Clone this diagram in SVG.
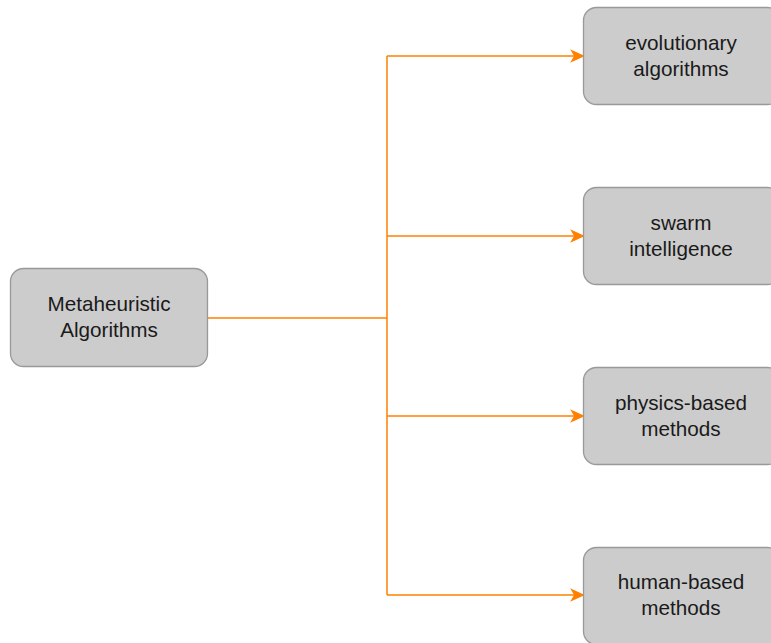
<svg xmlns="http://www.w3.org/2000/svg" width="771" height="643" viewBox="0 0 771 643">
  <style>
    .box { fill: #cccccc; stroke: #999999; stroke-width: 1.3; }
    .lbl { font-family: "Liberation Sans", Arial, sans-serif; font-size: 20.7px; fill: #1a1a1a; text-anchor: middle; }
    .edge { fill: none; stroke: #ff8000; stroke-width: 1.5; }
    .head { fill: #ff8000; stroke: #ff8000; stroke-width: 1.5; stroke-linejoin: miter; }
  </style>
  <rect width="771" height="643" fill="#ffffff"/>

  <g id="connectors">
    <path class="edge" d="M207 318 H387"/>
    <path class="edge" d="M387 56 V595"/>
    <path class="edge" d="M387 56 H576"/>
    <path class="edge" d="M387 236 H576"/>
    <path class="edge" d="M387 416 H576"/>
    <path class="edge" d="M387 595 H576"/>
    <path class="head" d="M583 56 L572 61 L575 56 L572 51 Z"/>
    <path class="head" d="M583 236 L572 241 L575 236 L572 231 Z"/>
    <path class="head" d="M583 416 L572 421 L575 416 L572 411 Z"/>
    <path class="head" d="M583 595 L572 600 L575 595 L572 590 Z"/>
  </g>

  <g id="metaheuristic">
    <rect class="box" x="10.5" y="268.5" width="197" height="98" rx="13"/>
    <text class="lbl" x="109" y="311">Metaheuristic</text>
    <text class="lbl" x="109" y="337">Algorithms</text>
  </g>

  <g id="evolutionary">
    <rect class="box" x="583.5" y="7.5" width="197" height="97" rx="13"/>
    <text class="lbl" x="681" y="50">evolutionary</text>
    <text class="lbl" x="681" y="76">algorithms</text>
  </g>

  <g id="swarm">
    <rect class="box" x="583.5" y="187.5" width="197" height="97" rx="13"/>
    <text class="lbl" x="681" y="230">swarm</text>
    <text class="lbl" x="681" y="256">intelligence</text>
  </g>

  <g id="physics">
    <rect class="box" x="583.5" y="367.5" width="197" height="97" rx="13"/>
    <text class="lbl" x="681" y="410">physics-based</text>
    <text class="lbl" x="681" y="436">methods</text>
  </g>

  <g id="human">
    <rect class="box" x="583.5" y="547.5" width="197" height="97" rx="13"/>
    <text class="lbl" x="681" y="589">human-based</text>
    <text class="lbl" x="681" y="615">methods</text>
  </g>
</svg>
